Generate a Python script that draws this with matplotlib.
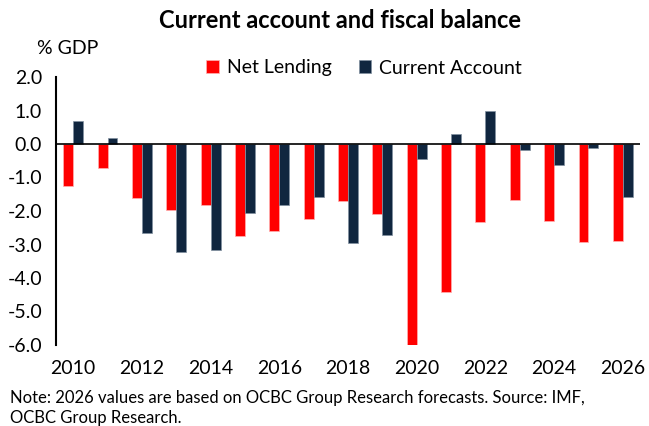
import matplotlib
matplotlib.use("Agg")
import matplotlib.pyplot as plt
import numpy as np

years = list(range(2010, 2027))
net_lending = [-1.26, -0.72, -1.60, -1.97, -1.81, -2.74, -2.59, -2.25, -1.70, -2.10,
               -6.04, -4.43, -2.33, -1.66, -2.30, -2.94, -2.91]
current_account = [0.69, 0.18, -2.66, -3.21, -3.17, -2.05, -1.83, -1.58, -2.96, -2.72,
                   -0.44, 0.29, 1.00, -0.17, -0.62, -0.11, -1.59]
yticks = [2.0, 1.0, 0.0, -1.0, -2.0, -3.0, -4.0, -5.0, -6.0]

plt.rcParams['font.family'] = ['Lato', 'DejaVu Sans']

fig = plt.figure(figsize=(6.49, 4.26), dpi=100)
ax = fig.add_axes([56/649, 1-345/426, (640-56)/649, (345-77)/426])

x = np.arange(len(years))
w = 0.29
red = '#FF0000'
navy = '#10263F'
ax.bar(x - w/2, net_lending, w, color=red, edgecolor='#ffb0b0', linewidth=0.5, label='Net Lending')
ax.bar(x + w/2, current_account, w, color=navy, edgecolor='#8090a0', linewidth=0.5, label='Current Account')

ax.set_xlim(-0.5, len(years) - 0.5)
ax.set_ylim(-6.0, 2.0)
ax.axhline(0, color='black', linewidth=1.2, zorder=3)

ax.set_yticks(yticks)
ax.set_yticklabels([f'{v:.1f}' for v in yticks], fontsize=14)
ax.tick_params(axis='y', length=0, pad=10)
ax.set_xticks(x[::2])
ax.set_xticklabels([str(y) for y in years[::2]], fontsize=14)
ax.tick_params(axis='x', length=0, pad=11)

for s in ['top', 'right', 'bottom']:
    ax.spines[s].set_visible(False)
ax.spines['left'].set_linewidth(1.5)

fig.text(340/649, 1-20/426, 'Current account and fiscal balance', fontsize=17,
         fontweight='bold', ha='center', va='center')
fig.text(37/649, 1-48/426, '% GDP', fontsize=14, ha='left', va='center')
fig.legend(loc='center', bbox_to_anchor=(364/649, 1-68/426), ncol=2, frameon=False,
           fontsize=14, handlelength=0.65, handleheight=0.65, handletextpad=0.4,
           columnspacing=1.4)
fig.text(10/649, 1-398/426,
         'Note: 2026 values are based on OCBC Group Research forecasts. Source: IMF,',
         fontsize=12, ha='left', va='center')
fig.text(10/649, 1-418/426, 'OCBC Group Research.', fontsize=12, ha='left', va='center')

fig.savefig('out.png', dpi=100)
